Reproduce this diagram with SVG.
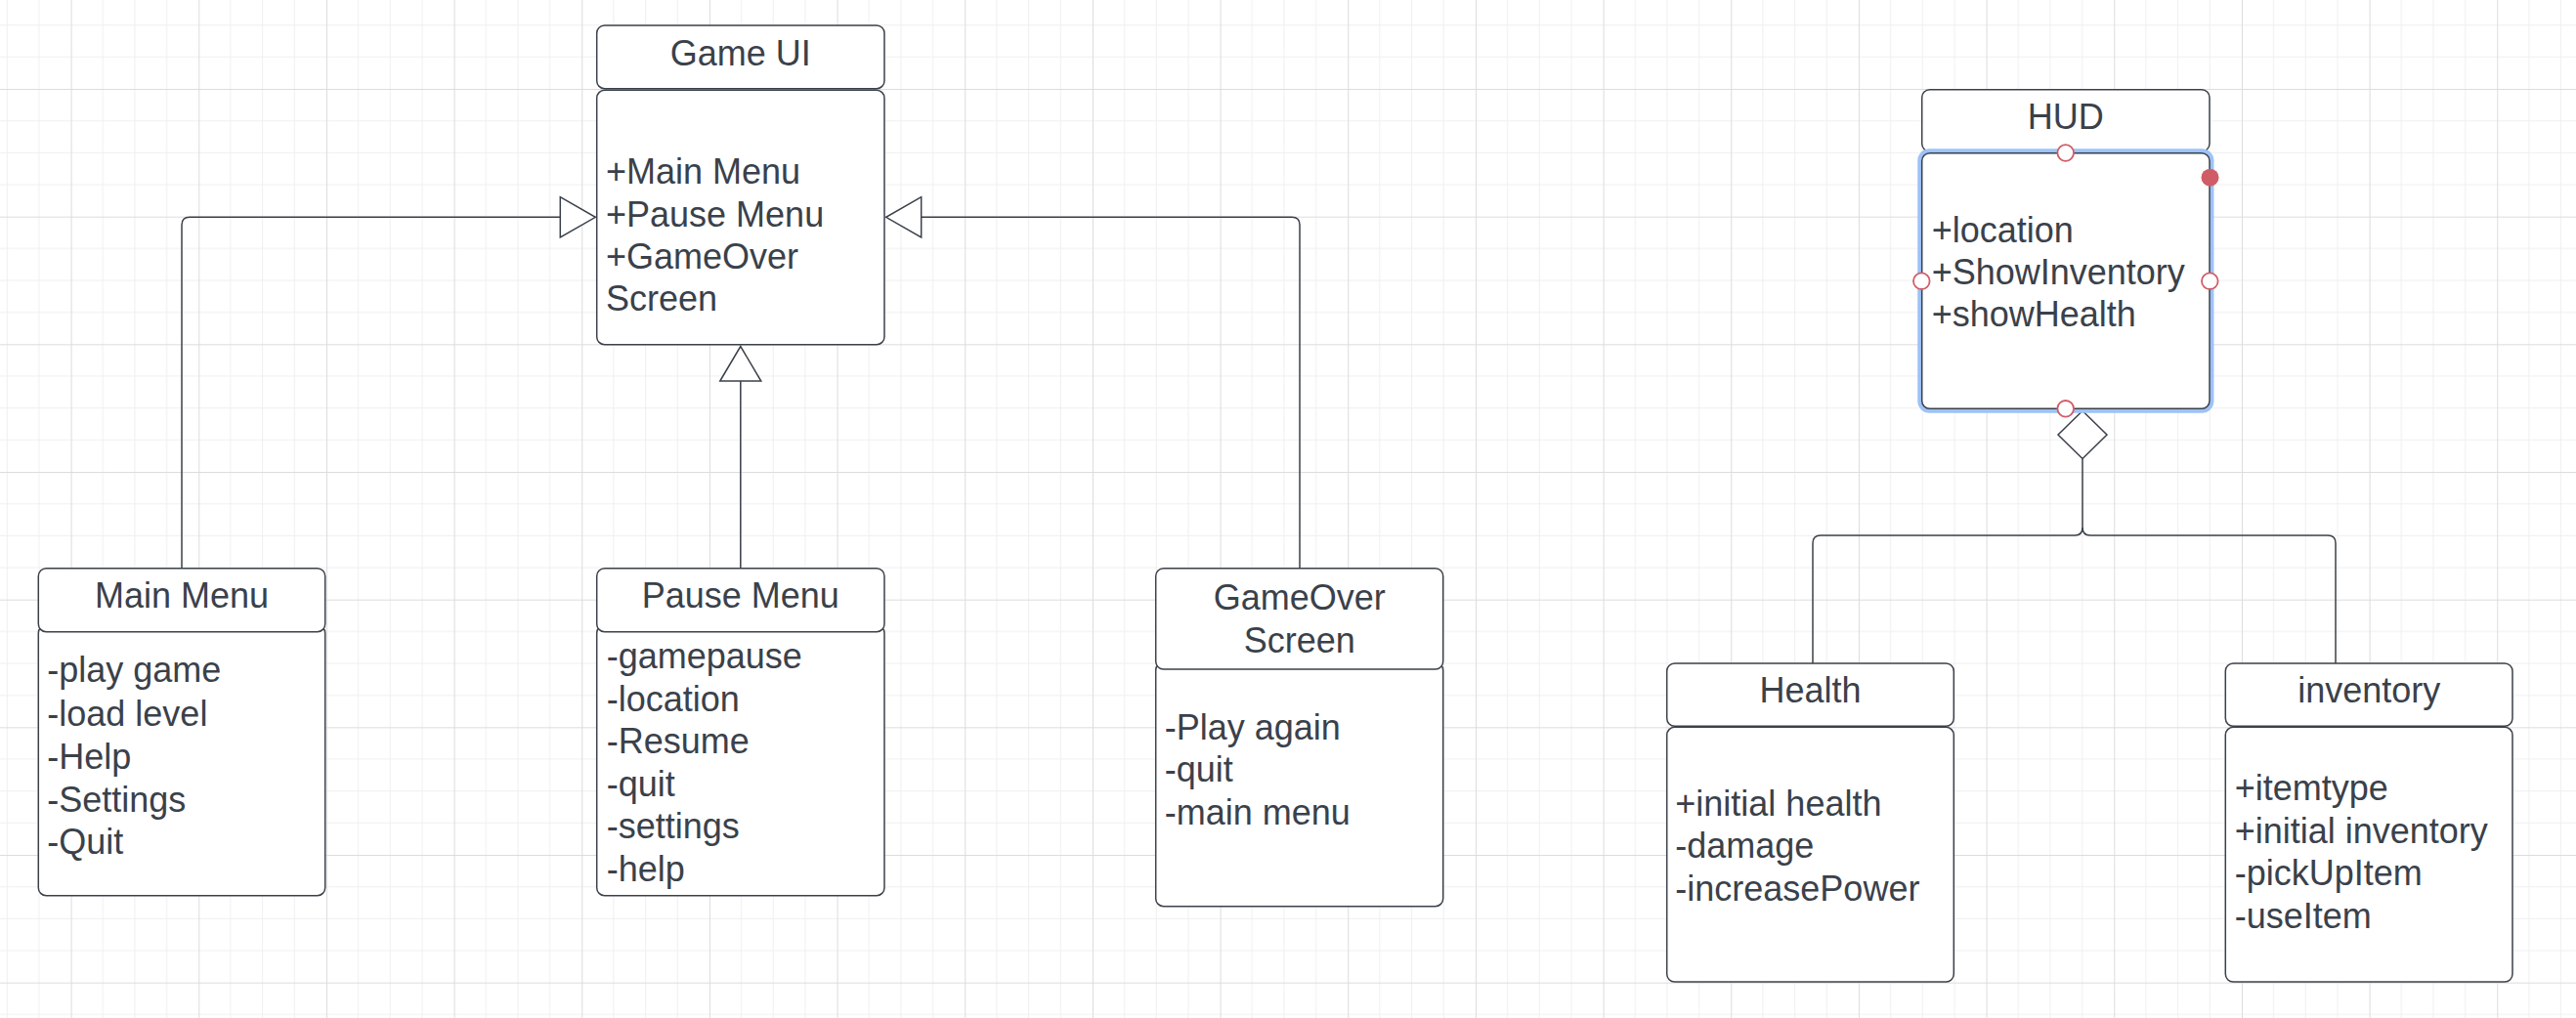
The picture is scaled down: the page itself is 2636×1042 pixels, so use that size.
<svg xmlns="http://www.w3.org/2000/svg" width="2636" height="1042" viewBox="0 0 2636 1042">
<style>
.box{fill:#ffffff;stroke:#3a414a;stroke-width:1.5}
.t{font-family:"Liberation Sans",Arial,sans-serif;font-size:36px;fill:#3a414a}
.c{text-anchor:middle}
.ln{fill:none;stroke:#3a414a;stroke-width:1.5}
.hd{fill:#ffffff;stroke:#3a414a;stroke-width:1.5}
.mn{stroke:#efefef;stroke-width:1}
.mj{stroke:#dcdcdc;stroke-width:1}
.hp{fill:#ffffff;stroke:#d05c67;stroke-width:1.8}
</style>
<defs>
<pattern id="grid" width="130.667" height="130.667" patternUnits="userSpaceOnUse" x="72.6" y="91">
<path class="mn" d="M32.667 0V130.667M65.333 0V130.667M98 0V130.667M0 32.667H130.667M0 65.333H130.667M0 98H130.667"/>
<path class="mj" d="M0.5 0V130.667M0 0.5H130.667"/>
</pattern>
</defs>
<rect width="2636" height="1042" fill="#ffffff"/>
<rect width="2636" height="1042" fill="url(#grid)"/>

<g id="connectors">
<path class="ln" d="M186 581.7V230.3Q186 222.3 194 222.3H573.3"/>
<polygon class="hd" points="573.3,201.7 609.3,222.3 573.3,242.9"/>
<path class="ln" d="M757.8 581.7V390"/>
<polygon class="hd" points="736.8,390 757.8,354.5 778.8,390"/>
<path class="ln" d="M1330 581.7V230.3Q1330 222.3 1322 222.3H942.7"/>
<polygon class="hd" points="942.7,201.7 906.7,222.3 942.7,242.9"/>
<path class="ln" d="M2131 469.5V540Q2131 548 2123 548H1863Q1855 548 1855 556V679"/>
<path class="ln" d="M2131 540Q2131 548 2139 548H2382Q2390 548 2390 556V679"/>
<polygon class="hd" points="2131,420.5 2156,445 2131,469.5 2106,445"/>
</g>

<g id="game-ui">
<rect class="box" x="610.7" y="26" width="294.3" height="64.7" rx="8"/>
<rect class="box" x="610.7" y="92.3" width="294.3" height="260.4" rx="8"/>
<text class="t c" x="757.8" y="66.7">Game UI</text>
<text class="t" x="620" y="188.3">+Main Menu</text>
<text class="t" x="620" y="231.5">+Pause Menu</text>
<text class="t" x="620" y="275">+GameOver</text>
<text class="t" x="620" y="318.4">Screen</text>
</g>

<g id="main-menu">
<rect class="box" x="39.3" y="640" width="293.4" height="276.7" rx="8"/>
<rect class="box" x="39.3" y="581.7" width="293.4" height="65" rx="8"/>
<text class="t c" x="186" y="621.7">Main Menu</text>
<text class="t" x="48.3" y="698.3">-play game</text>
<text class="t" x="48.3" y="742.5">-load level</text>
<text class="t" x="48.3" y="786.5">-Help</text>
<text class="t" x="48.3" y="830.5">-Settings</text>
<text class="t" x="48.3" y="874.3">-Quit</text>
</g>

<g id="pause-menu">
<rect class="box" x="610.7" y="640" width="294.3" height="276.7" rx="8"/>
<rect class="box" x="610.7" y="581.7" width="294.3" height="65" rx="8"/>
<text class="t c" x="757.8" y="621.7">Pause Menu</text>
<text class="t" x="620.7" y="684">-gamepause</text>
<text class="t" x="620.7" y="727.6">-location</text>
<text class="t" x="620.7" y="771.1">-Resume</text>
<text class="t" x="620.7" y="814.6">-quit</text>
<text class="t" x="620.7" y="858.1">-settings</text>
<text class="t" x="620.7" y="901.7">-help</text>
</g>

<g id="gameover-screen">
<rect class="box" x="1182.7" y="678" width="294" height="249.7" rx="8"/>
<rect class="box" x="1182.7" y="581.7" width="294" height="103.3" rx="8"/>
<text class="t c" x="1329.7" y="624">GameOver</text>
<text class="t c" x="1329.7" y="668.3">Screen</text>
<text class="t" x="1191.7" y="756.7">-Play again</text>
<text class="t" x="1191.7" y="800.3">-quit</text>
<text class="t" x="1191.7" y="844">-main menu</text>
</g>

<g id="hud">
<rect class="box" x="1966.7" y="91.7" width="294.3" height="63.3" rx="8"/>
<rect x="1964.5" y="154.5" width="298.7" height="266" rx="10" fill="none" stroke="#9dc2f7" stroke-width="4.5"/>
<rect class="box" x="1966.7" y="156.7" width="294.3" height="261.6" rx="8"/>
<text class="t c" x="2113.8" y="131.7">HUD</text>
<text class="t" x="1976.7" y="248.3">+location</text>
<text class="t" x="1976.7" y="291.2">+ShowInventory</text>
<text class="t" x="1976.7" y="334">+showHealth</text>
<circle class="hp" cx="2113.7" cy="156.5" r="8.3"/>
<circle class="hp" cx="1966.3" cy="287.7" r="8.3"/>
<circle class="hp" cx="2261.3" cy="287.7" r="8.3"/>
<circle class="hp" cx="2113.7" cy="418.3" r="8.3"/>
<circle cx="2261.5" cy="181.7" r="9" fill="#d05c67"/>
</g>

<g id="health">
<rect class="box" x="1705.7" y="679" width="293.6" height="64.3" rx="8"/>
<rect class="box" x="1705.7" y="744.3" width="293.6" height="260.7" rx="8"/>
<text class="t c" x="1852.5" y="719.3">Health</text>
<text class="t" x="1714.3" y="835">+initial health</text>
<text class="t" x="1714.3" y="878.3">-damage</text>
<text class="t" x="1714.3" y="921.7">-increasePower</text>
</g>

<g id="inventory">
<rect class="box" x="2277.3" y="679" width="293.7" height="64.3" rx="8"/>
<rect class="box" x="2277.3" y="744.3" width="293.7" height="260.7" rx="8"/>
<text class="t c" x="2424.2" y="719.3">inventory</text>
<text class="t" x="2286.7" y="819.3">+itemtype</text>
<text class="t" x="2286.7" y="862.8">+initial inventory</text>
<text class="t" x="2286.7" y="906.3">-pickUpItem</text>
<text class="t" x="2286.7" y="950">-useItem</text>
</g>
</svg>
